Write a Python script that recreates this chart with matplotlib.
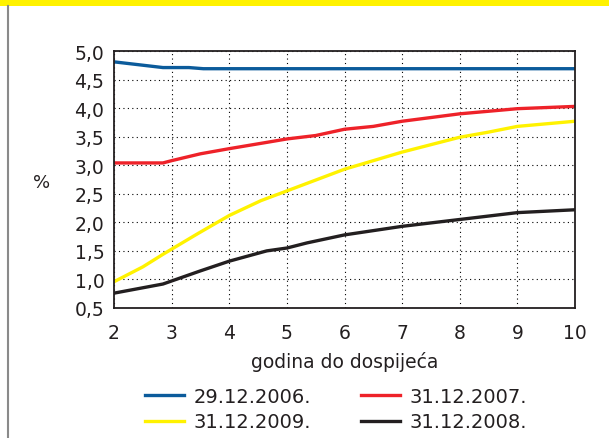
import matplotlib
matplotlib.use('Agg')
from matplotlib import pyplot as plt
from matplotlib.patches import Rectangle
from matplotlib.lines import Line2D

# years to maturity / yield (%)
x_2006 = [2, 2.85, 3.3, 3.55, 10]
y_2006 = [4.81, 4.71, 4.71, 4.69, 4.69]

x_2007 = [2, 2.85, 3, 3.5, 4, 4.65, 5, 5.5, 6, 6.5, 7, 8, 9, 10]
y_2007 = [3.04, 3.04, 3.08, 3.20, 3.29, 3.40, 3.46, 3.52, 3.63, 3.68, 3.77, 3.90, 3.99, 4.03]

x_2009 = [2, 2.5, 2.85, 3, 3.45, 4, 4.55, 5, 6, 7, 8, 8.5, 9, 10]
y_2009 = [0.96, 1.22, 1.44, 1.53, 1.80, 2.12, 2.38, 2.55, 2.93, 3.23, 3.49, 3.58, 3.68, 3.77]

x_2008 = [2, 2.85, 3.5, 4, 4.65, 5, 5.35, 6, 7, 8, 9, 10]
y_2008 = [0.76, 0.92, 1.15, 1.32, 1.50, 1.55, 1.64, 1.78, 1.93, 2.05, 2.17, 2.22]

x_ticks = [2, 3, 4, 5, 6, 7, 8, 9, 10]
y_ticks = [0.5, 1.0, 1.5, 2.0, 2.5, 3.0, 3.5, 4.0, 4.5, 5.0]
y_tick_labels = ['0,5', '1,0', '1,5', '2,0', '2,5', '3,0', '3,5', '4,0', '4,5', '5,0']

labels = ['29.12.2006.', '31.12.2007.', '31.12.2009.', '31.12.2008.']
colors = ['#0b5b9b', '#ee2229', '#fff200', '#231f20']

plt.rcParams['font.family'] = ['DejaVu Sans']
text_color = '#231f20'

fig = plt.figure(figsize=(6.09, 4.39), dpi=100)

# yellow header band and left rule
fig.patches.append(Rectangle((0, 1 - 7 / 439), 1, 7 / 439, transform=fig.transFigure,
                             facecolor='#fff200', edgecolor='none'))
fig.lines.append(Line2D([7.5 / 609, 7.5 / 609], [0, 1 - 7 / 439], transform=fig.transFigure,
                        color='#8a8a8a', lw=1.5))

ax = fig.add_axes([114 / 609, 1 - 309 / 439, 461 / 609, 257 / 439])

lw = 2.4
ax.plot(x_2006, y_2006, color=colors[0], lw=lw, label=labels[0])
ax.plot(x_2007, y_2007, color=colors[1], lw=lw, label=labels[1])
ax.plot(x_2009, y_2009, color=colors[2], lw=lw, label=labels[2])
ax.plot(x_2008, y_2008, color=colors[3], lw=lw, label=labels[3])

ax.set_xlim(2, 10)
ax.set_ylim(0.5, 5.0)
ax.set_xticks(x_ticks)
ax.set_yticks(y_ticks)
ax.set_yticklabels(y_tick_labels)
ax.tick_params(length=0, labelsize=13.5, labelcolor=text_color)
ax.tick_params(axis='x', pad=11)
ax.tick_params(axis='y', pad=7)
ax.grid(True, color='black', linestyle=(0, (1, 3)), linewidth=0.8)
for spine in ax.spines.values():
    spine.set_linewidth(1.3)
    spine.set_color('#231f20')

ax.set_xlabel('godina do dospijeća', fontsize=13.5, color=text_color, labelpad=6)
fig.text(42 / 609, 1 - 183 / 439, '%', fontsize=13, color=text_color, ha='center', va='center')

handles = ax.get_lines()
order = [0, 2, 1, 3]
lgd = fig.legend([handles[i] for i in order], [labels[i] for i in order],
                 ncol=2, frameon=False, loc='center', bbox_to_anchor=(336 / 609, 1 - 410 / 439),
                 fontsize=14, handlelength=2.0, handletextpad=0.5, columnspacing=2.6,
                 labelspacing=0.35, labelcolor=text_color)

fig.savefig('out.png', dpi=100)
